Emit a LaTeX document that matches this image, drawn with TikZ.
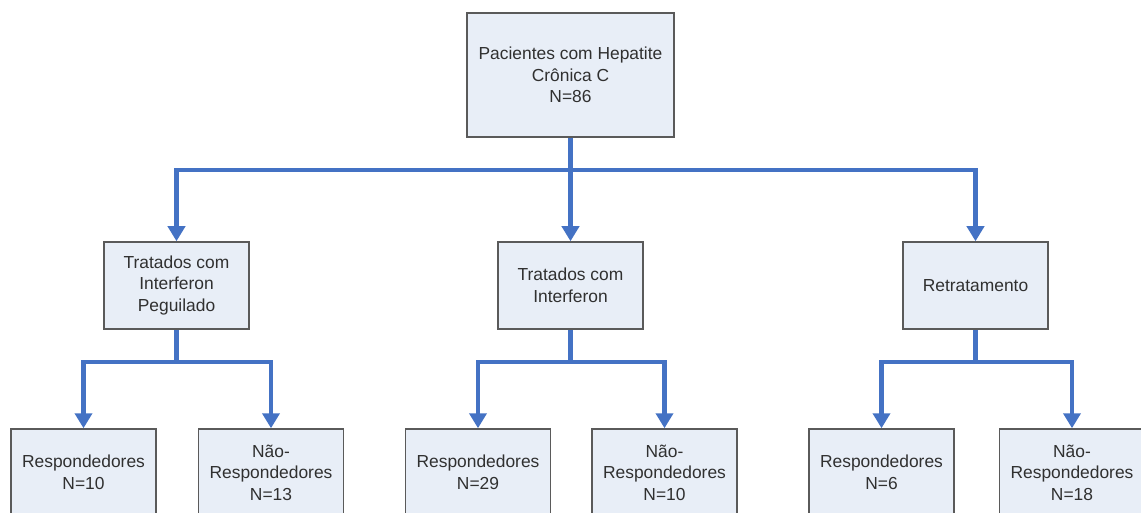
\documentclass[tikz,border=0pt]{standalone}
\usepackage{fontspec}
\setmainfont{Liberation Sans}
\usetikzlibrary{arrows.meta}
\definecolor{arrblue}{HTML}{4472C4}
\definecolor{boxfill}{HTML}{E8EEF7}
\definecolor{boxline}{HTML}{5A5A5A}
\definecolor{txt}{HTML}{303030}
\tikzset{
  box/.style={draw=boxline, line width=1.5pt, fill=boxfill, text=txt,
    minimum width=145pt, minimum height=87pt, inner sep=0pt, align=center,
    font=\fontsize{17.4}{21.5}\selectfont},
  topbox/.style={box, minimum width=207pt, minimum height=124pt},
  conn/.style={draw=arrblue, line width=4.5pt},
  arr/.style={conn, -{Triangle[width=17pt,length=15pt]}}
}
\begin{document}
\begin{tikzpicture}[x=1pt,y=-1pt]
\useasboundingbox (0,0) rectangle (1141,513);
\clip (0,0) rectangle (1141,513);
\fill[white] (0,0) rectangle (1141,513);
% nodes
\node[topbox] (top) at (570.5,75) {Pacientes com Hepatite\\Crônica C\\N=86};
\node[box] (a) at (176.5,285.5) {Tratados com\\Interferon\\Peguilado};
\node[box] (b) at (570.5,285.5) {Tratados com\\Interferon};
\node[box] (c) at (975.5,285.5) {Retratamento};
\node[box] (a1) at (83.5,472.5) {Respondedores\\N=10};
\node[box] (a2) at (271,472.5) {Não-\\Respondedores\\N=13};
\node[box] (b1) at (478,472.5) {Respondedores\\N=29};
\node[box] (b2) at (664.5,472.5) {Não-\\Respondedores\\N=10};
\node[box] (c1) at (881.5,472.5) {Respondedores\\N=6};
\node[box] (c2) at (1072,472.5) {Não-\\Respondedores\\N=18};
% junctions
\coordinate (j0) at (570.5,170);
\coordinate (ja) at (176.5,362);
\coordinate (jb) at (570.5,362);
\coordinate (jc) at (975.5,362);
% connectors
\draw[conn] (top.south) -- (j0);
\draw[arr] (j0) -| (a.north);
\draw[arr] (j0) -| (c.north);
\draw[arr] (j0) -- (b.north);
\draw[conn] (a.south) -- (ja);
\draw[arr] (ja) -| (a1.north);
\draw[arr] (ja) -| (a2.north);
\draw[conn] (b.south) -- (jb);
\draw[arr] (jb) -| (b1.north);
\draw[arr] (jb) -| (b2.north);
\draw[conn] (c.south) -- (jc);
\draw[arr] (jc) -| (c1.north);
\draw[arr] (jc) -| (c2.north);
\end{tikzpicture}
\end{document}
